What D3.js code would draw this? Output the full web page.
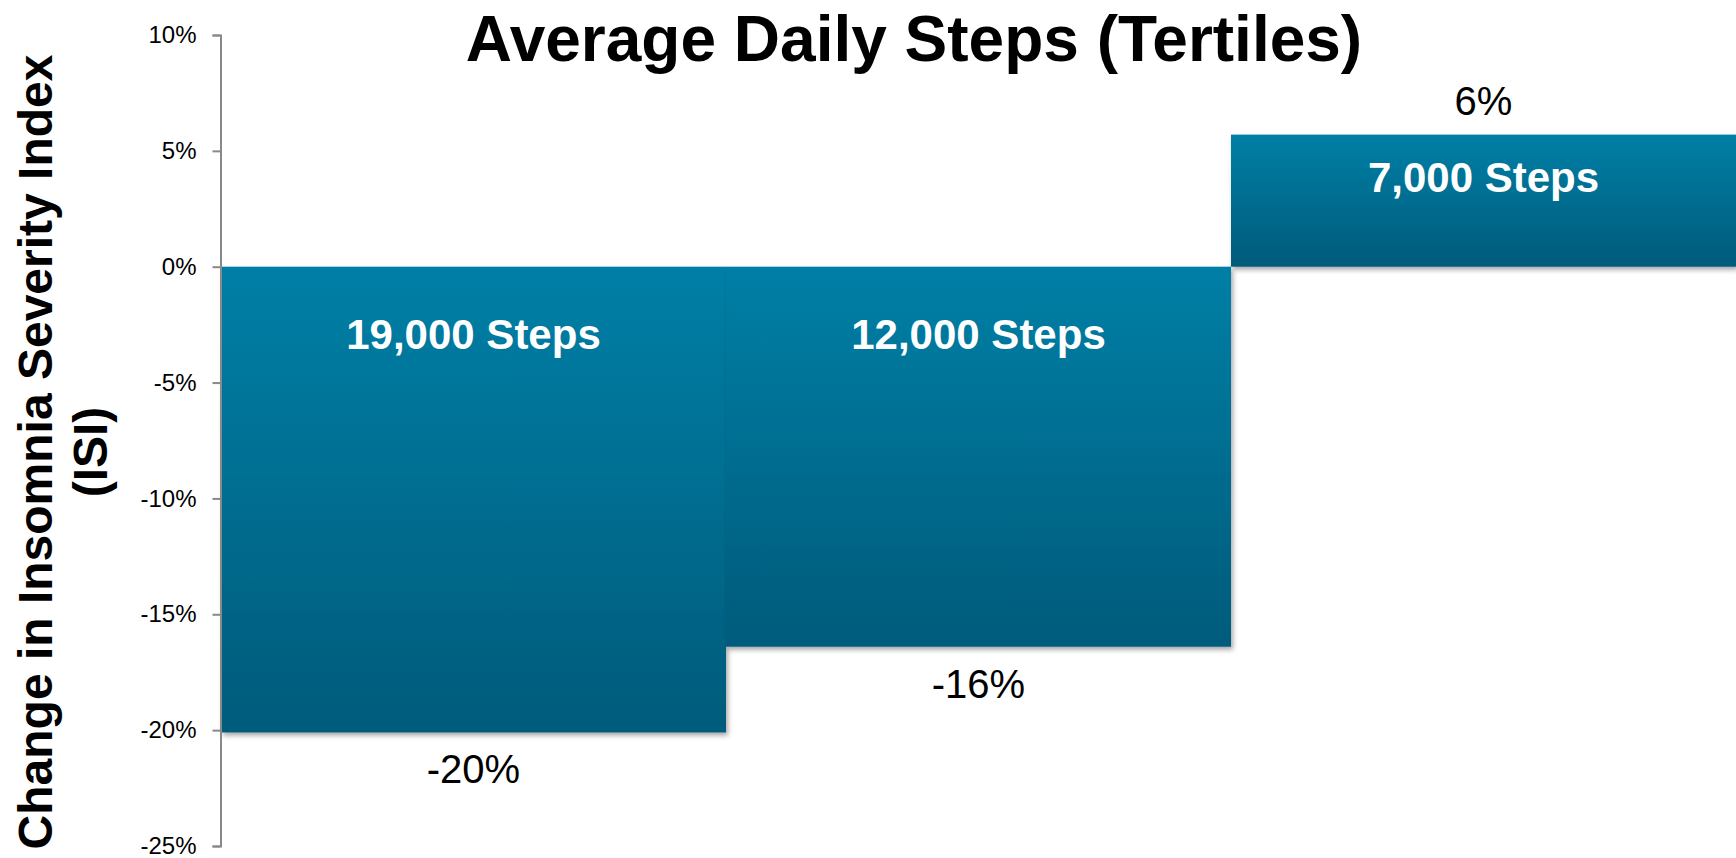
<!DOCTYPE html>
<html>
<head>
<meta charset="utf-8">
<script src="https://cdn.jsdelivr.net/npm/d3@7"></script>
<style>
  html, body { margin: 0; padding: 0; background: #fff; }
  svg { display: block; font-family: "Liberation Sans", Arial, sans-serif; }
</style>
</head>
<body>
<svg id="chart" width="1736" height="858"></svg>
<script>
// Tertile groups of average daily steps and the change in ISI for each
const categories = ["19,000 Steps", "12,000 Steps", "7,000 Steps"];
const changes = [-0.201, -0.164, 0.057];
const yTicks = [0.10, 0.05, 0, -0.05, -0.10, -0.15, -0.20, -0.25];

const chartTitle = "Average Daily Steps (Tertiles)";
const yTitleLines = ["Change in Insomnia Severity Index", "(ISI)"];

const W = 1736, H = 858;
const margin = { top: 35, right: 0, bottom: 12, left: 221 };

const svg = d3.select("#chart");

const x = d3.scaleBand()
  .domain(categories)
  .range([margin.left, W - margin.right])
  .padding(0);

const y = d3.scaleLinear()
  .domain([-0.25, 0.10])
  .range([H - margin.bottom, margin.top]);

// Percent format with a plain hyphen for negatives
const pctBase = d3.format(".0%");
const pct = v => pctBase(v).replace("\u2212", "-");

// Vertical gradient and soft drop shadow for the bars
const defs = svg.append("defs");
const grad = defs.append("linearGradient")
  .attr("id", "barFill")
  .attr("x1", 0).attr("y1", 0).attr("x2", 0).attr("y2", 1);
grad.append("stop").attr("offset", "0%").attr("stop-color", "#037fa6");
grad.append("stop").attr("offset", "100%").attr("stop-color", "#005b7b");

const shadow = defs.append("filter")
  .attr("id", "barShadow")
  .attr("x", "-5%").attr("y", "-5%")
  .attr("width", "115%").attr("height", "120%");
shadow.append("feDropShadow")
  .attr("dx", 2).attr("dy", 3)
  .attr("stdDeviation", 2.5)
  .attr("flood-color", "#000")
  .attr("flood-opacity", 0.35);

// Bars
const bars = svg.append("g");
bars.selectAll("rect")
  .data(categories)
  .join("rect")
  .attr("x", d => x(d))
  .attr("width", x.bandwidth())
  .attr("y", (d, i) => y(Math.max(0, changes[i])))
  .attr("height", (d, i) => Math.abs(y(changes[i]) - y(0)))
  .attr("fill", "url(#barFill)")
  .attr("filter", "url(#barShadow)");

// Y axis
const yAxis = d3.axisLeft(y)
  .tickValues(yTicks)
  .tickFormat(pct)
  .tickSizeInner(8)
  .tickSizeOuter(8)
  .tickPadding(16);

const gy = svg.append("g")
  .attr("transform", `translate(${margin.left - 0.5},0)`)
  .call(yAxis);
gy.select(".domain").attr("stroke", "#898989").attr("stroke-width", 2);
gy.selectAll(".tick line").attr("stroke", "#898989").attr("stroke-width", 2);
gy.selectAll(".tick text")
  .attr("fill", "#000")
  .style("font-size", "24px")
  .style("font-family", "'Liberation Sans', Arial, sans-serif");

// Group names inside the bars
svg.append("g").selectAll("text")
  .data(categories)
  .join("text")
  .attr("x", d => x(d) + x.bandwidth() / 2)
  .attr("y", (d, i) => changes[i] < 0 ? y(0) + 82 : y(0) - 75)
  .attr("text-anchor", "middle")
  .attr("fill", "#fff")
  .style("font-size", "42px")
  .style("font-weight", "bold")
  .text(d => d);

// Value labels just beyond the end of each bar
svg.append("g").selectAll("text")
  .data(categories)
  .join("text")
  .attr("x", d => x(d) + x.bandwidth() / 2)
  .attr("y", (d, i) => changes[i] < 0 ? y(changes[i]) + 51 : y(changes[i]) - 20)
  .attr("text-anchor", "middle")
  .attr("fill", "#000")
  .style("font-size", "40px")
  .text((d, i) => pct(changes[i]));

// Chart title
svg.append("text")
  .attr("x", 914)
  .attr("y", 61)
  .attr("text-anchor", "middle")
  .attr("fill", "#000")
  .style("font-size", "64px")
  .style("font-weight", "bold")
  .text(chartTitle);

// Y axis title, two centred lines rotated
const yTitle = svg.append("text")
  .attr("transform", "translate(52,452) rotate(-90)")
  .attr("text-anchor", "middle")
  .attr("fill", "#000")
  .style("font-size", "48px")
  .style("font-weight", "bold");
yTitle.selectAll("tspan")
  .data(yTitleLines)
  .join("tspan")
  .attr("x", 0)
  .attr("dy", (d, i) => i === 0 ? 0 : 55)
  .text(d => d);
</script>
</body>
</html>
